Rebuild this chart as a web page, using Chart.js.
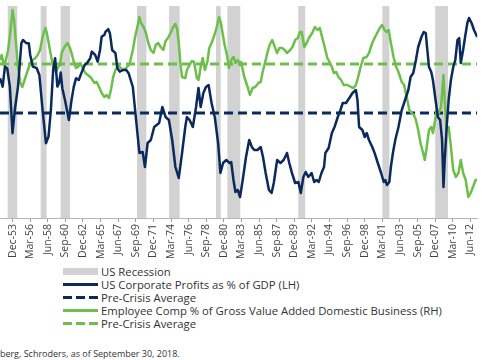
<!DOCTYPE html>
<html>
<head>
<meta charset="utf-8">
<script src="https://cdn.jsdelivr.net/npm/chart.js@4.4.1/dist/chart.umd.min.js"></script>
<style>
  body { margin: 0; width: 485px; height: 360px; overflow: hidden; background: #fff; position: relative;
         font-family: "Open Sans", sans-serif; color: #333; }
  #wrap { position: absolute; left: 0; top: 0; width: 485px; height: 262px; }
  #legend { position: absolute; left: 63px; top: 265px; font-size: 11.3px; }
  .item { display: flex; align-items: center; height: 13px; white-space: nowrap; }
  .item svg { margin-right: 3px; flex: none; }
  #source { position: absolute; left: 0; top: 347px; font-size: 9px; white-space: nowrap; }
</style>
</head>
<body>
<div id="wrap"><canvas id="chart"></canvas></div>
<div id="legend"></div>
<div id="source"><span id="cut">Source: Bloom</span>berg, Schroders, as of September 30, 2018.</div>
<script>
// x axis labels, one every 9 quarters
const tickLabels = ['Dec-53','Mar-56','Jun-58','Sep-60','Dec-62','Mar-65','Jun-67','Sep-69','Dec-71',
  'Mar-74','Jun-76','Sep-78','Dec-80','Mar-83','Jun-85','Sep-87','Dec-89','Mar-92','Jun-94','Sep-96',
  'Dec-98','Mar-01','Jun-03','Sep-05','Dec-07','Mar-10','Jun-12'];

// US recessions (start / end, decimal years)
const recessionStart = [1953.1, 1957.35, 1959.9, 1969.65, 1973.75, 1979.75, 1981.2, 1990.25, 2001.0, 2007.75];
const recessionEnd   = [1954.35, 1958.1, 1961.1, 1970.85, 1975.1, 1980.35, 1982.85, 1991.15, 2001.9, 2009.4];

// US corporate profits as % of GDP (LH)
const profitDates = [
  1952.15,1952.49,1952.78,1953.07,1953.41,1953.75,1954.04,1954.45,1954.88,1955.08,
  1955.51,1955.83,1956.01,1956.34,1956.84,1957.18,1957.59,1958.02,1958.35,1958.65,
  1958.94,1959.19,1959.48,1959.69,1959.91,1960.11,1960.45,1960.74,1960.95,1961.29,
  1961.58,1961.87,1962.21,1962.62,1962.96,1963.25,1963.68,1963.88,1964.31,1964.63,
  1964.93,1965.14,1965.48,1965.64,1965.98,1966.19,1966.48,1966.9,1967.15,1967.45,
  1967.86,1968.28,1968.58,1969.12,1969.5,1969.96,1970.38,1970.67,1971.01,1971.42,
  1971.85,1972.48,1972.89,1973.31,1973.73,1974.15,1974.56,1974.99,1975.41,1975.82,
  1976.03,1976.37,1976.79,1977.2,1977.51,1977.79,1978.13,1978.46,1978.8,1979.18,
  1979.59,1980.02,1980.31,1980.65,1981.06,1981.48,1981.69,1981.98,1982.23,1982.53,
  1982.82,1983.16,1983.58,1983.99,1984.33,1984.62,1985.05,1985.46,1985.75,1986.09,
  1986.51,1986.85,1987.13,1987.56,1987.98,1988.39,1988.82,1989.11,1989.45,1989.86,
  1990.28,1990.58,1990.91,1991.21,1991.54,1991.96,1992.29,1992.59,1992.88,1993.22,
  1993.55,1993.72,1994.14,1994.55,1994.89,1995.31,1995.65,1995.94,1996.36,1996.78,
  1997.19,1997.62,1997.82,1998.03,1998.45,1998.75,1999.0,1999.29,1999.71,2000.01,
  2000.42,2000.84,2001.18,2001.39,2001.59,2001.89,2002.09,2002.35,2002.65,2003.06,
  2003.48,2003.9,2004.32,2004.61,2004.95,2005.29,2005.58,2005.99,2006.29,2006.55,
  2006.71,2006.96,2007.25,2007.46,2007.8,2008.09,2008.38,2008.63,2008.81,2008.97,
  2009.22,2009.47,2009.76,2010.06,2010.32,2010.6,2010.82,2011.02,2011.32,2011.57,
  2011.86,2012.08,2012.4,2012.71,2013.12];
const profitValues = [
  8.69,8.27,9.27,9.19,8.27,5.94,7.1,8.27,10.44,10.6,
  10.44,10.44,9.85,9.27,9.19,8.85,7.1,5.44,5.77,7.1,
  9.1,9.69,8.27,8.44,8.97,8.19,7.6,7.02,6.6,7.6,
  8.27,8.69,8.6,9.02,9.35,9.44,9.69,10.02,9.85,9.52,
  10.1,10.77,10.85,11.02,11.14,10.94,10.1,9.94,9.19,9.02,
  9.1,9.1,8.94,8.25,6.75,4.95,5.0,4.25,5.45,5.6,
  6.25,6.45,7.25,6.75,6.6,5.6,4.25,3.7,4.95,6.25,
  6.75,6.6,6.25,7.25,8.2,7.25,7.95,8.25,8.35,7.45,
  6.75,5.45,3.95,4.45,4.6,4.45,4.5,3.6,3.0,3.1,
  2.75,3.6,4.75,5.6,5.25,5.1,5.1,5.25,4.75,3.95,
  3.1,2.95,3.45,4.6,4.45,4.6,4.95,4.45,3.95,3.45,
  3.5,2.95,3.75,4.0,3.75,3.95,3.5,3.6,3.5,3.95,
  4.25,4.95,5.2,5.95,6.25,6.75,7.1,7.45,7.45,7.7,
  7.95,8.1,7.6,6.25,6.1,5.75,5.95,5.6,5.25,4.95,
  4.45,3.95,3.5,3.6,3.35,3.5,4.25,4.95,5.6,6.25,
  7.1,7.6,8.1,8.75,8.95,9.6,10.25,10.75,11.0,10.95,
  10.25,9.25,9.0,8.6,7.6,6.75,6.6,5.6,3.25,4.6,
  6.25,7.6,8.6,9.25,9.6,10.6,10.7,9.45,10.1,10.75,
  11.45,11.7,11.45,11.1,10.75];
const profitAverage = 6.95;

// Employee comp % of gross value added, domestic business (RH)
const compDates = [
  1952.15,1952.36,1952.65,1952.9,1953.19,1953.5,1953.75,1953.95,1954.16,1954.45,
  1954.75,1955.0,1955.29,1955.58,1956.01,1956.34,1956.68,1956.96,1957.27,1957.59,
  1957.93,1958.1,1958.35,1958.65,1958.94,1959.28,1959.6,1959.82,1960.03,1960.32,
  1960.74,1961.04,1961.29,1961.58,1961.87,1962.12,1962.42,1962.71,1963.05,1963.38,
  1963.8,1964.22,1964.51,1964.81,1965.14,1965.48,1965.76,1966.07,1966.32,1966.61,
  1966.9,1967.24,1967.57,1967.86,1968.28,1968.71,1969.12,1969.41,1969.75,1969.96,
  1970.16,1970.5,1970.79,1971.1,1971.42,1971.76,1972.05,1972.35,1972.68,1973.02,
  1973.31,1973.61,1973.94,1974.28,1974.56,1974.78,1974.99,1975.19,1975.41,1975.82,
  1976.03,1976.37,1976.66,1976.95,1977.29,1977.51,1977.79,1978.05,1978.33,1978.64,
  1978.89,1979.18,1979.47,1979.81,1980.15,1980.35,1980.56,1980.85,1981.15,1981.4,
  1981.69,1981.98,1982.23,1982.53,1982.82,1982.95,1983.36,1983.79,1984.08,1984.42,
  1984.75,1985.17,1985.46,1985.68,1986.0,1986.31,1986.59,1986.93,1987.26,1987.56,
  1987.85,1988.19,1988.52,1988.82,1989.23,1989.52,1989.86,1990.2,1990.49,1990.7,
  1991.03,1991.33,1991.62,1992.04,1992.38,1992.72,1993.01,1993.3,1993.63,1993.97,
  1994.26,1994.55,1994.8,1995.11,1995.39,1995.73,1996.06,1996.56,1996.99,1997.32,
  1997.62,1997.91,1998.22,1998.57,1999.0,1999.29,1999.71,2000.01,2000.34,2000.67,
  2000.96,2001.27,2001.52,2001.81,2002.09,2002.43,2002.77,2003.06,2003.48,2003.78,
  2004.11,2004.45,2004.74,2005.04,2005.29,2005.58,2005.87,2006.21,2006.42,2006.62,
  2006.96,2007.25,2007.46,2007.68,2007.96,2008.22,2008.5,2008.81,2008.97,2009.22,
  2009.47,2009.76,2010.06,2010.39,2010.73,2011.02,2011.32,2011.65,2011.99,2012.28,
  2012.58,2012.91,2013.12];
const compValues = [
  63.6,63.85,63.35,63.6,64.1,65.1,66.1,65.6,64.6,63.25,
  62.45,62.25,62.6,62.95,63.45,63.6,63.7,63.85,64.1,64.75,
  65.2,65.0,64.5,63.85,63.25,63.0,63.25,63.35,63.95,64.2,
  64.45,64.25,63.95,63.5,63.2,63.25,63.45,63.2,62.95,62.85,
  62.7,62.45,62.5,62.25,61.95,61.75,61.85,61.7,62.1,62.75,
  63.1,63.35,63.2,63.1,63.2,63.4,64.1,64.75,65.35,65.75,
  65.45,65.25,64.95,64.45,64.1,63.95,64.35,64.45,64.25,64.1,
  64.55,64.7,64.95,65.25,65.4,65.15,64.45,63.45,62.75,62.7,
  63.1,63.35,63.55,63.5,62.7,62.6,63.25,63.7,63.1,63.5,
  64.2,64.45,64.75,65.2,65.75,65.5,65.0,64.35,63.85,63.2,
  63.6,63.75,63.45,63.6,63.35,63.5,62.75,62.25,61.85,62.2,
  62.25,62.45,62.5,62.95,63.45,63.95,64.35,64.6,64.25,63.95,
  64.2,64.2,64.1,63.95,64.1,64.25,64.6,64.7,65.0,65.0,
  64.25,64.45,64.7,64.95,65.25,65.1,65.2,64.75,64.25,63.7,
  63.5,63.25,62.95,63.0,62.75,62.6,62.35,62.35,62.25,62.2,
  62.35,62.75,63.25,63.7,63.75,63.95,64.45,64.7,64.95,65.2,
  65.35,65.1,65.0,65.1,64.45,63.75,63.25,63.0,62.5,62.35,
  61.75,61.1,60.95,60.85,60.6,60.1,59.45,58.95,58.6,59.1,
  60.1,60.25,59.95,60.45,61.1,60.95,61.25,62.85,61.6,60.1,
  60.25,59.25,58.1,57.75,57.95,58.6,57.95,57.6,56.75,56.95,
  57.25,57.6,57.6];
const compAverage = 63.4;

const navy = '#0b2a5c';
const green = '#6cc04a';
const grey = '#d2d2d2';

// "Dec-53" -> 1953.75
function labelToYear(label){
  let [mon, yy] = label.split('-');
  let q = {Mar: 0, Jun: 0.25, Sep: 0.5, Dec: 0.75}[mon];
  let y = parseInt(yy, 10);
  return (y >= 50 ? 1900 + y : 2000 + y) + q;
}

function pairs(xs, ys){
  return xs.map((x, i) => ({x: x, y: ys[i]}));
}

let recessionData = [];
recessionStart.forEach((s, i) => {
  let e = recessionEnd[i];
  recessionData.push({x: s, y: 0}, {x: s, y: 1}, {x: e, y: 1}, {x: e, y: 0});
});

let firstDate = profitDates[0];
let lastDate = profitDates[profitDates.length - 1];

let ctx = document.getElementById('chart').getContext('2d');
let chart = new Chart(ctx, {
  type: 'line',
  data: {
    datasets: [
      {label: 'US Recession', data: recessionData, yAxisID: 'yRec', fill: 'origin',
       backgroundColor: grey, borderWidth: 0, pointRadius: 0, order: 10},
      {label: 'US Corporate Profits as % of GDP (LH)', data: pairs(profitDates, profitValues), yAxisID: 'y',
       borderColor: navy, borderWidth: 2.5, pointRadius: 0, order: 1},
      {label: 'Pre-Crisis Average', data: [{x: firstDate, y: profitAverage}, {x: lastDate, y: profitAverage}], yAxisID: 'y',
       borderColor: navy, borderWidth: 3, borderDash: [9, 5], pointRadius: 0, order: 3},
      {label: 'Employee Comp % of Gross Value Added Domestic Business (RH)', data: pairs(compDates, compValues), yAxisID: 'y2',
       borderColor: green, borderWidth: 2.5, pointRadius: 0, order: 2},
      {label: 'Pre-Crisis Average', data: [{x: firstDate, y: compAverage}, {x: lastDate, y: compAverage}], yAxisID: 'y2',
       borderColor: green, borderWidth: 3, borderDash: [9, 5], pointRadius: 0, order: 4}
    ]
  },
  options: {
    responsive: true,
    maintainAspectRatio: false,
    animation: false,
    layout: {padding: {top: 6, left: 0, right: 0, bottom: 0}},
    elements: {line: {tension: 0, borderJoinStyle: 'round'}},
    plugins: {legend: {display: false}, tooltip: {enabled: false}},
    scales: {
      x: {
        type: 'linear',
        min: firstDate,
        max: lastDate,
        afterBuildTicks: s => { s.ticks = tickLabels.map(l => ({value: labelToYear(l)})); },
        afterFit: s => { s.height = 44; },
        grid: {drawOnChartArea: false, drawTicks: true, tickLength: 4, color: '#9a9a9a'},
        border: {display: true, color: '#b5b5b5'},
        ticks: {
          autoSkip: false, minRotation: 90, maxRotation: 90, padding: 2,
          color: '#444', font: {family: 'Open Sans', size: 10.5},
          callback: (v, i) => tickLabels[i]
        }
      },
      y: {display: false, min: 1.7, max: 12.3},
      y2: {display: false, min: 55.7, max: 66.3},
      yRec: {display: false, min: 0, max: 1}
    }
  }
});

// legend, one item per line
function swatch(ds){
  if (ds.fill) return `<svg width="35" height="9"><rect x="0" y="1" width="35" height="7" fill="${ds.backgroundColor}"/></svg>`;
  let dash = ds.borderDash ? 'stroke-dasharray="9 4"' : '';
  return `<svg width="35" height="9"><line x1="0" y1="4.5" x2="35" y2="4.5" stroke="${ds.borderColor}" stroke-width="3" ${dash}/></svg>`;
}
document.getElementById('legend').innerHTML = chart.data.datasets
  .map(ds => `<div class="item">${swatch(ds)}<span>${ds.label}</span></div>`).join('');

// the source line is cut at the left edge of the picture
let src = document.getElementById('source');
src.style.left = -document.getElementById('cut').offsetWidth + 'px';
</script>
</body>
</html>
